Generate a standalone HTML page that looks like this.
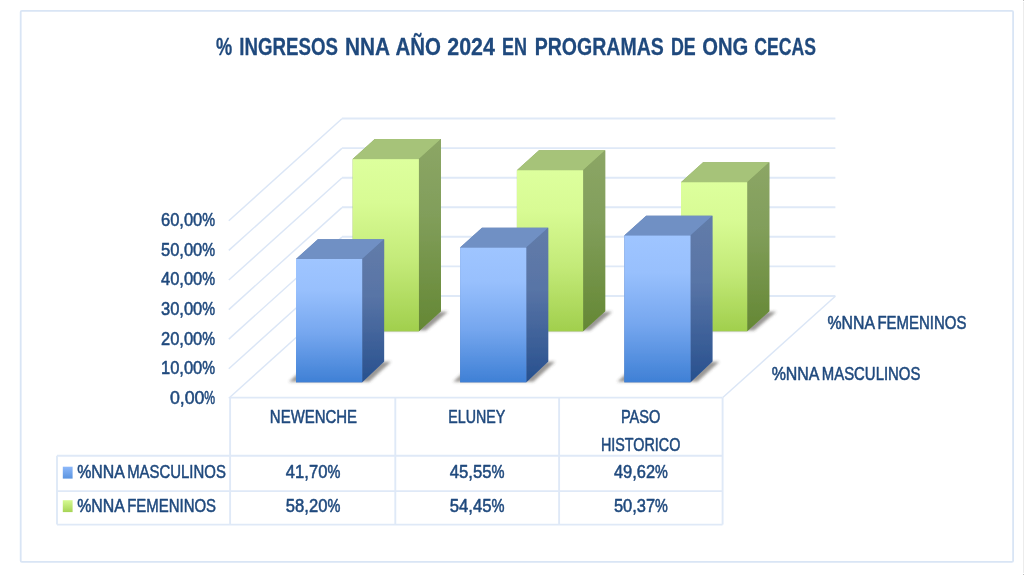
<!DOCTYPE html>
<html lang="es"><head><meta charset="utf-8"><title>% INGRESOS NNA AÑO 2024 EN PROGRAMAS DE ONG CECAS</title>
<style>
html,body{margin:0;padding:0;background:#fff;}
body{width:1024px;height:575px;overflow:hidden;position:relative;}
svg{display:block;filter:blur(0.55px);}
.edge{z-index:2;position:absolute;left:1023px;top:2px;width:1px;height:571px;background:#ececec;}
.dot{z-index:3;position:absolute;left:1023px;width:1px;height:1px;background:#bdbdbd;}
</style></head><body>
<div class="edge"></div><div class="dot" style="top:0"></div><div class="dot" style="top:574px"></div>
<svg width="1024" height="575" viewBox="0 0 1024 575">
<defs>
<linearGradient id="bf" x1="0" y1="0" x2="0" y2="1"><stop offset="0" stop-color="#9fc5ff"/><stop offset="0.25" stop-color="#98c0fd"/><stop offset="0.6" stop-color="#76a7ef"/><stop offset="1" stop-color="#3f80d5"/></linearGradient>
<linearGradient id="bs" x1="0" y1="0" x2="0" y2="1"><stop offset="0" stop-color="#627ca9"/><stop offset="0.4" stop-color="#5874a6"/><stop offset="1" stop-color="#27508e"/></linearGradient>
<linearGradient id="gf" x1="0" y1="0" x2="0" y2="1"><stop offset="0" stop-color="#ddff9d"/><stop offset="0.25" stop-color="#d8fb94"/><stop offset="0.6" stop-color="#c3ea78"/><stop offset="1" stop-color="#a1cf4d"/></linearGradient>
<linearGradient id="gs" x1="0" y1="0" x2="0" y2="1"><stop offset="0" stop-color="#8ca666"/><stop offset="0.4" stop-color="#819e5a"/><stop offset="1" stop-color="#648734"/></linearGradient>
<linearGradient id="lb" x1="0" y1="0" x2="0" y2="1"><stop offset="0" stop-color="#8db8fa"/><stop offset="1" stop-color="#5a94e0"/></linearGradient>
<linearGradient id="lg" x1="0" y1="0" x2="0" y2="1"><stop offset="0" stop-color="#d6fa92"/><stop offset="1" stop-color="#a6d455"/></linearGradient>
<filter id="sh" x="-20%" y="-50%" width="140%" height="200%"><feGaussianBlur stdDeviation="1.7"/></filter>
<filter id="soft" x="-5%" y="-5%" width="110%" height="110%"><feGaussianBlur stdDeviation="0.45"/></filter>
</defs>
<rect x="0" y="0" width="1024" height="575" fill="#ffffff"/>
<rect x="20.7" y="10.9" width="992.4" height="551.0" rx="1.2" fill="none" stroke="#d9e5f5" stroke-width="1.8"/>
<g fill="none" stroke="#dfe9f7" stroke-width="1.9" stroke-linejoin="round">
<polyline points="228.8,398.3 341.9,296.3" stroke-width="1.45" stroke="#dbe6f6"/>
<polyline points="341.9,296.0 835.4,296.0"/>
<polyline points="228.8,368.7 341.9,266.7" stroke-width="1.45" stroke="#dbe6f6"/>
<polyline points="341.9,266.4 835.4,266.4"/>
<polyline points="228.8,339.1 341.9,237.1" stroke-width="1.45" stroke="#dbe6f6"/>
<polyline points="341.9,236.8 835.4,236.8"/>
<polyline points="228.8,309.6 341.9,207.6" stroke-width="1.45" stroke="#dbe6f6"/>
<polyline points="341.9,207.3 835.4,207.3"/>
<polyline points="228.8,280.0 341.9,178.0" stroke-width="1.45" stroke="#dbe6f6"/>
<polyline points="341.9,177.7 835.4,177.7"/>
<polyline points="228.8,250.4 341.9,148.4" stroke-width="1.45" stroke="#dbe6f6"/>
<polyline points="341.9,148.1 835.4,148.1"/>
<polyline points="228.8,220.8 341.9,118.8" stroke-width="1.45" stroke="#dbe6f6"/>
<polyline points="341.9,118.5 835.4,118.5"/>
<polyline points="722.8,397.5 835.3,296.3" stroke-width="1.45" stroke="#dbe6f6"/>
<line x1="230.1" y1="397.6" x2="722.6" y2="397.6"/>
<line x1="57.0" y1="455.7" x2="722.6" y2="455.7"/>
<line x1="57.0" y1="491.1" x2="722.6" y2="491.1"/>
<line x1="57.0" y1="524.6" x2="722.6" y2="524.6"/>
<line x1="230.1" y1="397.6" x2="230.1" y2="524.6"/>
<line x1="395.3" y1="397.6" x2="395.3" y2="524.6"/>
<line x1="559.1" y1="397.6" x2="559.1" y2="524.6"/>
<line x1="722.6" y1="397.6" x2="722.6" y2="524.6"/>
<line x1="57.0" y1="455.7" x2="57.0" y2="524.6"/>
</g>
<g filter="url(#soft)">
<polygon points="345.7,330.6 425.9,330.6 448.0,311.7 367.8,311.7" fill="#57534f" opacity="0.6" filter="url(#sh)"/>
<polygon points="352.7,159.1 374.8,139.1 441.0,139.1 441.0,311.3 418.9,331.2 352.7,331.2" fill="#8aa562"/>
<polygon points="352.7,159.1 418.9,159.1 441.0,139.1 374.8,139.1" fill="#a6c379"/>
<polygon points="418.9,159.1 441.0,139.1 441.0,311.3 418.9,331.2" fill="url(#gs)"/>
<rect x="352.7" y="159.1" width="66.2" height="172.2" fill="url(#gf)"/>
<polygon points="509.9,330.6 590.1,330.6 612.2,311.7 532.0,311.7" fill="#57534f" opacity="0.6" filter="url(#sh)"/>
<polygon points="516.9,170.2 539.0,150.2 605.2,150.2 605.2,311.3 583.1,331.2 516.9,331.2" fill="#8aa562"/>
<polygon points="516.9,170.2 583.1,170.2 605.2,150.2 539.0,150.2" fill="#a6c379"/>
<polygon points="583.1,170.2 605.2,150.2 605.2,311.3 583.1,331.2" fill="url(#gs)"/>
<rect x="516.9" y="170.2" width="66.2" height="161.1" fill="url(#gf)"/>
<polygon points="674.0,330.6 754.2,330.6 776.3,311.7 696.1,311.7" fill="#57534f" opacity="0.6" filter="url(#sh)"/>
<polygon points="681.0,182.2 703.1,162.3 769.3,162.3 769.3,311.3 747.2,331.2 681.0,331.2" fill="#8aa562"/>
<polygon points="681.0,182.2 747.2,182.2 769.3,162.3 703.1,162.3" fill="#a6c379"/>
<polygon points="747.2,182.2 769.3,162.3 769.3,311.3 747.2,331.2" fill="url(#gs)"/>
<rect x="681.0" y="182.2" width="66.2" height="149.0" fill="url(#gf)"/>
<polygon points="289.0,381.7 369.2,381.7 391.1,361.8 310.9,361.8" fill="#57534f" opacity="0.6" filter="url(#sh)"/>
<polygon points="296.0,259.0 317.9,239.2 384.1,239.2 384.1,361.4 362.2,382.3 296.0,382.3" fill="#5f7db0"/>
<polygon points="296.0,259.0 362.2,259.0 384.1,239.2 317.9,239.2" fill="#7090c4"/>
<polygon points="362.2,259.0 384.1,239.2 384.1,361.4 362.2,382.3" fill="url(#bs)"/>
<rect x="296.0" y="259.0" width="66.2" height="123.3" fill="url(#bf)"/>
<polygon points="453.1,381.7 533.3,381.7 555.2,361.8 475.0,361.8" fill="#57534f" opacity="0.6" filter="url(#sh)"/>
<polygon points="460.1,247.6 482.0,227.8 548.2,227.8 548.2,361.4 526.3,382.3 460.1,382.3" fill="#5f7db0"/>
<polygon points="460.1,247.6 526.3,247.6 548.2,227.8 482.0,227.8" fill="#7090c4"/>
<polygon points="526.3,247.6 548.2,227.8 548.2,361.4 526.3,382.3" fill="url(#bs)"/>
<rect x="460.1" y="247.6" width="66.2" height="134.7" fill="url(#bf)"/>
<polygon points="617.3,381.7 697.5,381.7 719.4,361.8 639.2,361.8" fill="#57534f" opacity="0.6" filter="url(#sh)"/>
<polygon points="624.3,235.5 646.2,215.8 712.4,215.8 712.4,361.4 690.5,382.3 624.3,382.3" fill="#5f7db0"/>
<polygon points="624.3,235.5 690.5,235.5 712.4,215.8 646.2,215.8" fill="#7090c4"/>
<polygon points="690.5,235.5 712.4,215.8 712.4,361.4 690.5,382.3" fill="url(#bs)"/>
<rect x="624.3" y="235.5" width="66.2" height="146.8" fill="url(#bf)"/>
</g>
<g font-family="'Liberation Sans', Arial, sans-serif" fill="#1f497d" stroke="#1f497d" stroke-width="0.55" stroke-linejoin="round">
<text y="55.0" font-size="24.6" stroke-width="0.3" font-weight="bold"><tspan x="216.05" textLength="16.20" lengthAdjust="spacingAndGlyphs">%</tspan> <tspan x="239.25" textLength="98.70" lengthAdjust="spacingAndGlyphs">INGRESOS</tspan> <tspan x="344.95" textLength="44.29" lengthAdjust="spacingAndGlyphs">NNA</tspan> <tspan x="395.45" textLength="45.50" lengthAdjust="spacingAndGlyphs">AÑO</tspan> <tspan x="447.25" textLength="47.69" lengthAdjust="spacingAndGlyphs">2024</tspan> <tspan x="501.95" textLength="25.00" lengthAdjust="spacingAndGlyphs">EN</tspan> <tspan x="534.75" textLength="129.01" lengthAdjust="spacingAndGlyphs">PROGRAMAS</tspan> <tspan x="670.95" textLength="24.80" lengthAdjust="spacingAndGlyphs">DE</tspan> <tspan x="702.25" textLength="46.00" lengthAdjust="spacingAndGlyphs">ONG</tspan> <tspan x="754.25" textLength="61.69" lengthAdjust="spacingAndGlyphs">CECAS</tspan></text>
<text y="403.6" font-size="19.0"><tspan x="169.88" textLength="34.55" lengthAdjust="spacingAndGlyphs">0,00</tspan><tspan x="204.31" textLength="10.82" lengthAdjust="spacingAndGlyphs">%</tspan></text>
<text y="374.2" font-size="19.0"><tspan x="160.98" textLength="41.32" lengthAdjust="spacingAndGlyphs">10,00</tspan><tspan x="202.28" textLength="12.85" lengthAdjust="spacingAndGlyphs">%</tspan></text>
<text y="344.6" font-size="19.0"><tspan x="160.98" textLength="41.32" lengthAdjust="spacingAndGlyphs">20,00</tspan><tspan x="202.28" textLength="12.85" lengthAdjust="spacingAndGlyphs">%</tspan></text>
<text y="314.9" font-size="19.0"><tspan x="160.98" textLength="41.32" lengthAdjust="spacingAndGlyphs">30,00</tspan><tspan x="202.28" textLength="12.85" lengthAdjust="spacingAndGlyphs">%</tspan></text>
<text y="285.2" font-size="19.0"><tspan x="160.98" textLength="41.32" lengthAdjust="spacingAndGlyphs">40,00</tspan><tspan x="202.28" textLength="12.85" lengthAdjust="spacingAndGlyphs">%</tspan></text>
<text y="255.6" font-size="19.0"><tspan x="160.98" textLength="41.32" lengthAdjust="spacingAndGlyphs">50,00</tspan><tspan x="202.28" textLength="12.85" lengthAdjust="spacingAndGlyphs">%</tspan></text>
<text y="225.8" font-size="19.0"><tspan x="160.98" textLength="41.32" lengthAdjust="spacingAndGlyphs">60,00</tspan><tspan x="202.28" textLength="12.85" lengthAdjust="spacingAndGlyphs">%</tspan></text>
<text y="328.5" font-size="19.0"><tspan x="827.38" textLength="46.74" lengthAdjust="spacingAndGlyphs">%NNA</tspan> <tspan x="877.47" textLength="88.95" lengthAdjust="spacingAndGlyphs">FEMENINOS</tspan></text>
<text y="380.2" font-size="19.0"><tspan x="771.67" textLength="46.94" lengthAdjust="spacingAndGlyphs">%NNA</tspan> <tspan x="821.77" textLength="98.66" lengthAdjust="spacingAndGlyphs">MASCULINOS</tspan></text>
<text y="478.0" font-size="19.0"><tspan x="77.18" textLength="46.84" lengthAdjust="spacingAndGlyphs">%NNA</tspan> <tspan x="127.18" textLength="98.66" lengthAdjust="spacingAndGlyphs">MASCULINOS</tspan></text>
<text y="511.8" font-size="19.0"><tspan x="77.18" textLength="46.84" lengthAdjust="spacingAndGlyphs">%NNA</tspan> <tspan x="127.18" textLength="88.85" lengthAdjust="spacingAndGlyphs">FEMENINOS</tspan></text>
<text y="423.2" font-size="19.0"><tspan x="269.87" textLength="87.24" lengthAdjust="spacingAndGlyphs">NEWENCHE</tspan></text>
<text y="423.0" font-size="19.0"><tspan x="448.37" textLength="56.94" lengthAdjust="spacingAndGlyphs">ELUNEY</tspan></text>
<text y="423.0" font-size="19.0"><tspan x="620.88" textLength="39.44" lengthAdjust="spacingAndGlyphs">PASO</tspan></text>
<text y="450.7" font-size="19.0"><tspan x="600.88" textLength="79.44" lengthAdjust="spacingAndGlyphs">HISTORICO</tspan></text>
<text y="478.0" font-size="19.0"><tspan x="285.87" textLength="41.55" lengthAdjust="spacingAndGlyphs">41,70</tspan><tspan x="327.41" textLength="12.92" lengthAdjust="spacingAndGlyphs">%</tspan></text>
<text y="478.0" font-size="19.0"><tspan x="449.67" textLength="41.85" lengthAdjust="spacingAndGlyphs">45,55</tspan><tspan x="491.52" textLength="13.01" lengthAdjust="spacingAndGlyphs">%</tspan></text>
<text y="478.0" font-size="19.0"><tspan x="613.88" textLength="41.17" lengthAdjust="spacingAndGlyphs">49,62</tspan><tspan x="655.02" textLength="12.80" lengthAdjust="spacingAndGlyphs">%</tspan></text>
<text y="511.6" font-size="19.0"><tspan x="285.87" textLength="41.55" lengthAdjust="spacingAndGlyphs">58,20</tspan><tspan x="327.41" textLength="12.92" lengthAdjust="spacingAndGlyphs">%</tspan></text>
<text y="511.6" font-size="19.0"><tspan x="449.67" textLength="41.85" lengthAdjust="spacingAndGlyphs">54,45</tspan><tspan x="491.52" textLength="13.01" lengthAdjust="spacingAndGlyphs">%</tspan></text>
<text y="511.6" font-size="19.0"><tspan x="613.88" textLength="41.17" lengthAdjust="spacingAndGlyphs">50,37</tspan><tspan x="655.02" textLength="12.80" lengthAdjust="spacingAndGlyphs">%</tspan></text>
</g>
<rect x="62.8" y="466.7" width="9.8" height="11.9" fill="url(#lb)"/>
<rect x="62.8" y="500.2" width="9.8" height="11.9" fill="url(#lg)"/>
</svg>
</body></html>
